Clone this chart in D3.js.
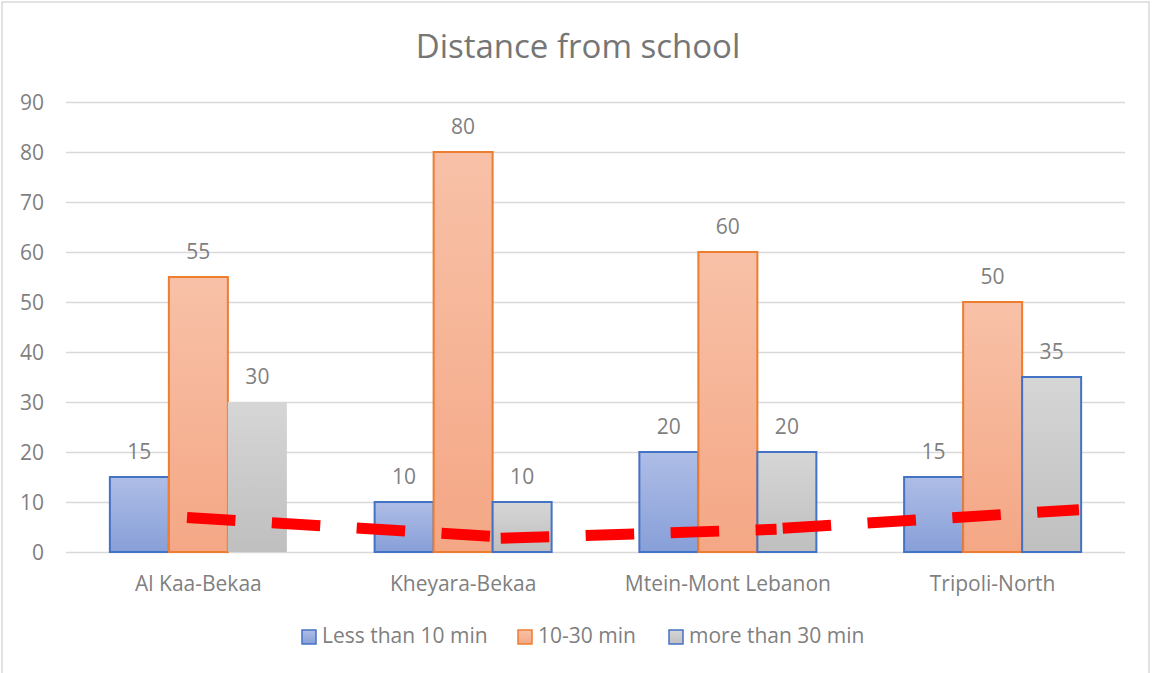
<!DOCTYPE html>
<html>
<head>
<meta charset="utf-8">
<script src="https://cdn.jsdelivr.net/npm/d3@7"></script>
<style>
  html, body { margin: 0; padding: 0; background: #ffffff; }
  svg { display: block; }
  text { font-family: "Open Sans", "Noto Sans", sans-serif; }
</style>
</head>
<body>
<svg id="chart" width="1154" height="673"></svg>
<script>
// ---- data ----
const categories = ["Al Kaa-Bekaa", "Kheyara-Bekaa", "Mtein-Mont Lebanon", "Tripoli-North"];
const seriesNames = ["Less than 10 min", "10-30 min", "more than 30 min"];
const lessThan10 = [15, 10, 20, 15];
const from10to30 = [55, 80, 60, 50];
const moreThan30 = [30, 10, 20, 35];
const yTicks = [0, 10, 20, 30, 40, 50, 60, 70, 80, 90];
const titleText = "Distance from school";
// dashed red trend line (x in category-index units)
const trendStartIdx = [-0.043, 1.142, 2.207];
const trendEndIdx   = [1.113, 2.184, 3.326];
const trendStartVal = [6.9, 2.75, 4.75];
const trendEndVal   = [3.1, 4.55, 8.45];

const seriesValues = [lessThan10, from10to30, moreThan30];

// ---- layout ----
const plot = { left: 66, right: 1125, top: 102, bottom: 552 };
const svg = d3.select("#chart");

const fills = [
  { id: "gBlue", top: "#aebde6", bottom: "#879fd8" },
  { id: "gOrange", top: "#f8c1a7", bottom: "#f4a785" },
  { id: "gGrey", top: "#d6d6d6", bottom: "#bfbfbf" }
];
const strokeColors = ["#4472c4", "#ed7d31", "#4472c4"];

const defs = svg.append("defs");
fills.forEach(f => {
  const g = defs.append("linearGradient").attr("id", f.id)
    .attr("x1", 0).attr("y1", 0).attr("x2", 0).attr("y2", 1);
  g.append("stop").attr("offset", "0%").attr("stop-color", f.top);
  g.append("stop").attr("offset", "100%").attr("stop-color", f.bottom);
});

// chart border
svg.append("rect").attr("x", 2).attr("y", 2).attr("width", 1147).attr("height", 680)
  .attr("fill", "none").attr("stroke", "#d9d9d9").attr("stroke-width", 1.5);

// scales
const x0 = d3.scaleBand().domain(categories).range([plot.left, plot.right])
  .paddingInner(0.3314).paddingOuter(0.1657);
const x1 = d3.scaleBand().domain(seriesNames).range([0, x0.bandwidth()]);
const y = d3.scaleLinear().domain([0, 90]).range([plot.bottom, plot.top]);
const xIdx = d3.scaleLinear().domain([-0.5, categories.length - 0.5]).range([plot.left, plot.right]);

// gridlines
const grid = svg.append("g")
  .attr("transform", `translate(${plot.left},0)`)
  .call(d3.axisLeft(y).tickValues(yTicks).tickSize(-(plot.right - plot.left)).tickFormat(""));
grid.select(".domain").remove();
grid.selectAll(".tick line").attr("stroke", "#d9d9d9").attr("stroke-width", 1.5);

// y-axis labels
const yAxis = svg.append("g").attr("transform", `translate(44,0)`)
  .call(d3.axisLeft(y).tickValues(yTicks).tickSize(0).tickPadding(0));
yAxis.select(".domain").remove();
yAxis.selectAll("text").attr("fill", "#7f7f7f").style("font-size", "21px")
  .style("font-family", "'Open Sans', sans-serif").attr("dy", "0.35em");

// bars
const groups = svg.append("g").selectAll("g").data(categories).join("g")
  .attr("transform", d => `translate(${x0(d)},0)`);

groups.each(function (cat, ci) {
  const g = d3.select(this);
  seriesNames.forEach((s, si) => {
    const v = seriesValues[si][ci];
    const noStroke = (si === 2 && ci === 0);
    g.append("rect")
      .attr("x", x1(s)).attr("y", y(v))
      .attr("width", x1.bandwidth()).attr("height", y(0) - y(v))
      .attr("fill", `url(#${fills[si].id})`)
      .attr("stroke", noStroke ? "none" : strokeColors[si])
      .attr("stroke-width", 2);
    g.append("text")
      .attr("x", x1(s) + x1.bandwidth() / 2)
      .attr("y", y(v) - 18)
      .attr("text-anchor", "middle")
      .attr("fill", "#7f7f7f").style("font-size", "21px")
      .text(v);
  });
});

// trend line segments
const trendG = svg.append("g");
trendStartIdx.forEach((s, i) => {
  trendG.append("line")
    .attr("x1", xIdx(s)).attr("y1", y(trendStartVal[i]))
    .attr("x2", xIdx(trendEndIdx[i])).attr("y2", y(trendEndVal[i]))
    .attr("stroke", "#ff0000").attr("stroke-width", 11)
    .attr("stroke-dasharray", "48.5 36.5").attr("stroke-linecap", "butt");
});

// category labels
const xAxis = svg.append("g").attr("transform", `translate(0,${plot.bottom})`)
  .call(d3.axisBottom(x0).tickSize(0).tickPadding(0));
xAxis.select(".domain").remove();
xAxis.selectAll("text").attr("fill", "#7f7f7f").style("font-size", "21px")
  .style("font-family", "'Open Sans', sans-serif").attr("dy", null).attr("y", 39);

// title
svg.append("text").attr("x", 578).attr("y", 58).attr("text-anchor", "middle")
  .attr("fill", "#767676").style("font-size", "33px").text(titleText);

// legend
const legendX = [302, 518, 669];
const legend = svg.append("g");
seriesNames.forEach((s, i) => {
  legend.append("rect").attr("x", legendX[i]).attr("y", 630).attr("width", 14).attr("height", 14)
    .attr("fill", `url(#${fills[i].id})`).attr("stroke", strokeColors[i]).attr("stroke-width", 1.5);
  legend.append("text").attr("x", legendX[i] + 20).attr("y", 643)
    .attr("fill", "#7f7f7f").style("font-size", "21px").text(s);
});
</script>
</body>
</html>
